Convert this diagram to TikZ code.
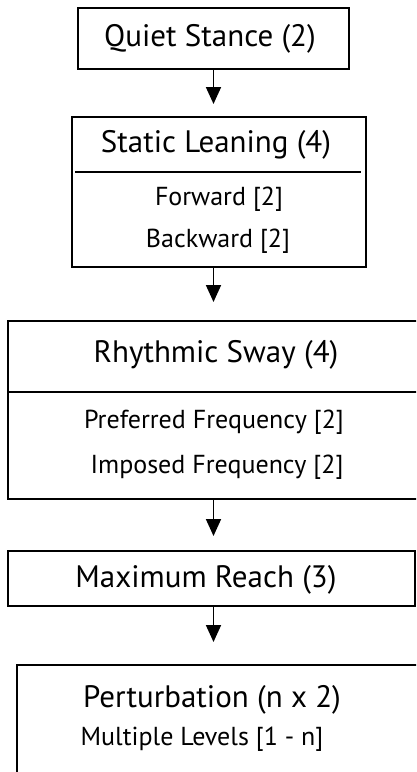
\documentclass[tikz,border=0pt]{standalone}
\usepackage{fontspec}
\setmainfont{PT Sans}
\usetikzlibrary{arrows.meta}

\tikzset{
    box/.style={draw, line width=2pt, inner sep=0pt},
    head/.style={font=\fontsize{31}{33}\selectfont},
    item/.style={font=\fontsize{26}{28}\selectfont},
    rule/.style={line width=2pt},
    flow/.style={line width=1.8pt, -{Triangle[length=17pt,width=15pt]}}
}

\begin{document}
\begin{tikzpicture}[x=1pt, y=-1pt]

    % Canvas
    \clip (0,0) rectangle (416,772);

    % Draw the boxes of the protocol
    \node[box, minimum width=271pt, minimum height=61pt] (quiet) at (213.5,38.5) {};
    \node[box, minimum width=294pt, minimum height=150pt] (static) at (219,192) {};
    \node[box, minimum width=414pt, minimum height=178pt] (rhythm) at (215,410) {};
    \node[box, minimum width=407pt, minimum height=55pt] (reach) at (211.5,578.5) {};
    \node[box, minimum width=410pt, minimum height=140pt] (perturb) at (222,735) {};

    % Dividers under the headings
    \draw[rule] (75,172) -- (361,172);
    \draw[rule] (7,392) -- (420,392);

    % Label the boxes
    \node[head] (quiettext) at (210,39) {Quiet Stance (2)};
    \node[head] (statictext) at (216,145) {Static Leaning (4)};
    \node[item] (forward) at (219,199) {Forward [2]};
    \node[item] (backward) at (218,241) {Backward [2]};
    \node[head] (rhythmtext) at (216,355) {Rhythmic Sway (4)};
    \node[item] (preferred) at (214,422) {Preferred Frequency [2]};
    \node[item] (imposed) at (217,467) {Imposed Frequency [2]};
    \node[head] (reachtext) at (206,580) {Maximum Reach (3)};
    \node[head] (perturbtext) at (212,700) {Perturbation (n x 2)};
    \node[item] (levels) at (202,739) {Multiple Levels [1 - n]};

    % Arrows between the stages
    \draw[flow, shorten >=12pt] (quiet.south -| quiet) -- (static.north -| quiet);
    \draw[flow, shorten >=18pt] (static.south -| quiet) -- (rhythm.north -| quiet);
    \draw[flow, shorten >=14pt] (rhythm.south -| quiet) -- (reach.north -| quiet);
    \draw[flow, shorten >=22pt] (reach.south -| quiet) -- (perturb.north -| quiet);

\end{tikzpicture}
\end{document}
